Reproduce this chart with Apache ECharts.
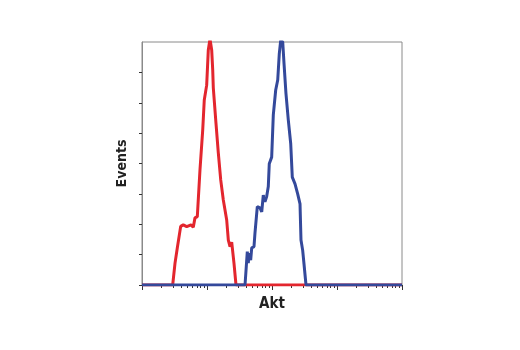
<!DOCTYPE html>
<html>
<head>
<meta charset="utf-8">
<script src="https://cdn.jsdelivr.net/npm/echarts@6/dist/echarts.min.js"></script>
<style>
  html, body { margin: 0; padding: 0; background: #fff; }
  #chart { width: 520px; height: 350px; }
</style>
</head>
<body>
<div id="chart"></div>
<script>
// x is in decades (log10 of Akt intensity), y is event count in tick units
var redX = [0, 0.472, 0.508, 0.543, 0.595, 0.635, 0.688, 0.754, 0.789, 0.815, 0.851, 0.892, 0.934, 0.958, 0.995, 1.020, 1.046, 1.072, 1.088, 1.097, 1.138, 1.174, 1.211, 1.251, 1.303, 1.328, 1.354, 1.380, 1.415, 1.446, 4];
var redY = [0, 0, 0.72, 1.22, 1.93, 1.98, 1.92, 1.98, 1.90, 2.21, 2.25, 3.79, 5.10, 6.09, 6.58, 7.74, 8.1, 7.74, 7.08, 6.49, 5.33, 4.35, 3.46, 2.80, 2.14, 1.48, 1.26, 1.41, 0.72, 0, 0];
var blueX = [0, 1.585, 1.620, 1.635, 1.651, 1.672, 1.688, 1.723, 1.738, 1.774, 1.815, 1.842, 1.866, 1.892, 1.918, 1.943, 1.958, 1.995, 2.020, 2.057, 2.088, 2.112, 2.134, 2.165, 2.185, 2.215, 2.251, 2.288, 2.312, 2.354, 2.395, 2.431, 2.446, 2.472, 2.492, 2.523, 4];
var blueY = [0, 0, 1.10, 0.72, 1.05, 0.82, 1.22, 1.26, 1.71, 2.58, 2.54, 2.41, 2.96, 2.74, 2.91, 3.24, 3.99, 4.21, 5.60, 6.42, 6.75, 7.61, 8.05, 8.0, 7.29, 6.30, 5.43, 4.65, 3.55, 3.33, 3.00, 2.67, 1.48, 1.14, 0.70, 0, 0];
var majorTicks = [0, 1, 2, 3, 4];
var yTicks = [0, 1, 2, 3, 4, 5, 6, 7];

function pairs(xs, ys) {
    var out = [];
    for (var i = 0; i < xs.length; i++) {
        out.push([xs[i], ys[i]]);
    }
    return out;
}

// minor ticks of a log axis: 2..9 inside every decade
var minorTicks = [];
for (var d = 0; d < 4; d++) {
    for (var k = 2; k <= 9; k++) {
        minorTicks.push(d + Math.log10(k));
    }
}

var font = '"Liberation Sans Narrow", "DejaVu Sans Condensed", "Liberation Sans", sans-serif';
var myChart = echarts.init(document.getElementById('chart'));

option = {
    animation: false,
    grid: {
        left: 142, top: 42, width: 260, height: 243,
        show: true, borderColor: '#8a8a8a', borderWidth: 1
    },
    xAxis: [{
        type: 'value', min: 0, max: 4,
        name: 'Akt', nameLocation: 'middle', nameGap: 12,
        nameTextStyle: { fontFamily: font, fontWeight: 'bold', fontSize: 15, color: '#222' },
        axisLine: { show: true, lineStyle: { color: '#555', width: 1 } },
        axisTick: { show: true, customValues: majorTicks, length: 5, lineStyle: { color: '#333', width: 1 } },
        axisLabel: { show: false },
        splitLine: { show: false }
    }, {
        type: 'value', min: 0, max: 4, position: 'bottom',
        axisLine: { show: false },
        axisTick: { show: true, customValues: minorTicks, length: 3, lineStyle: { color: '#333', width: 1 } },
        axisLabel: { show: false },
        splitLine: { show: false }
    }],
    yAxis: {
        type: 'value', min: 0, max: 8, interval: 1,
        name: 'Events', nameLocation: 'middle', nameGap: 13,
        nameTextStyle: { fontFamily: font, fontWeight: 'bold', fontSize: 14, color: '#222' },
        axisLine: { show: true, lineStyle: { color: '#8a8a8a', width: 1 } },
        axisTick: { show: true, customValues: yTicks, length: 3, lineStyle: { color: '#333', width: 1 } },
        axisLabel: { show: false },
        splitLine: { show: false }
    },
    series: [{
        type: 'line', data: pairs(redX, redY), showSymbol: false, z: 2,
        lineStyle: { color: '#e3262e', width: 3 }, itemStyle: { color: '#e3262e' }
    }, {
        type: 'line', data: pairs(blueX, blueY), showSymbol: false, z: 3,
        lineStyle: { color: '#34499b', width: 3 }, itemStyle: { color: '#34499b' }
    }]
};
myChart.setOption(option);
</script>
</body>
</html>
